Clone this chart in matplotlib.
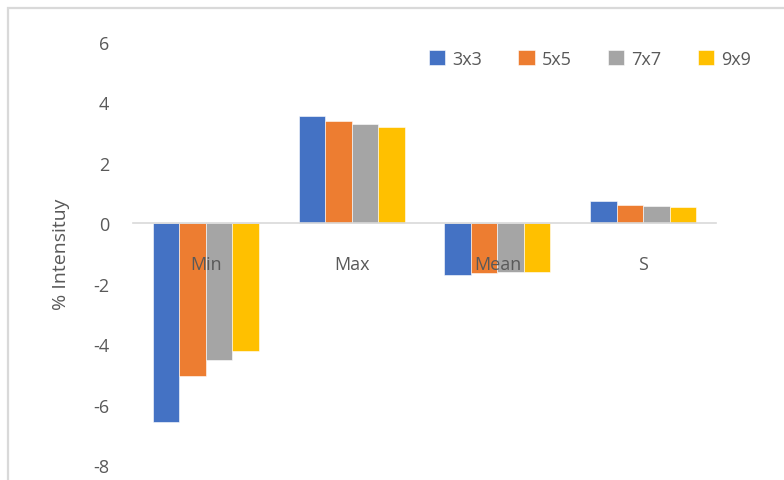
import matplotlib
matplotlib.use("Agg")
import matplotlib.pyplot as plt
import numpy as np
from matplotlib.patches import Rectangle

# data
categories = ["Min", "Max", "Mean", "S"]
kernels = ["3x3", "5x5", "7x7", "9x9"]
vals_3x3 = [-6.58, 3.54, -1.70, 0.75]
vals_5x5 = [-5.06, 3.38, -1.64, 0.62]
vals_7x7 = [-4.53, 3.28, -1.61, 0.57]
vals_9x9 = [-4.23, 3.20, -1.60, 0.55]
y_ticks = [-8, -6, -4, -2, 0, 2, 4, 6]

COLORS = ["#4472C4", "#ED7D31", "#A5A5A5", "#FFC000"]
TEXT_COLOR = "#595959"
LINE_COLOR = "#D9D9D9"

plt.rcParams["font.family"] = ["Open Sans", "DejaVu Sans"]
plt.rcParams["axes.unicode_minus"] = False

W, H = 784, 481
fig = plt.figure(figsize=(W / 100, H / 100), dpi=100)
fig.patch.set_facecolor("white")

# outer chart frame (cut off on right and bottom in the reference)
fig.patches.append(Rectangle((8 / W, -0.2), 1.2, 1.2 - 9 / H,
                             transform=fig.transFigure, fill=False,
                             edgecolor=LINE_COLOR, linewidth=1.6))

ax = fig.add_axes([133 / W, (H - 466) / H, 583 / W, 423 / H])

series = [vals_3x3, vals_5x5, vals_7x7, vals_9x9]
x = np.arange(len(categories))
group = 0.727
bw = group / len(series)
for i, (name, vals) in enumerate(zip(kernels, series)):
    offs = -group / 2 + bw * (i + 0.5)
    ax.bar(x + offs, vals, width=bw, color=COLORS[i], label=name,
           edgecolor="white", linewidth=0.4)

ax.set_xlim(-0.5, len(categories) - 0.5)
ax.set_ylim(-8, 6)
ax.set_yticks(y_ticks)
ax.set_xticks(x, categories)

for side in ["top", "right", "left"]:
    ax.spines[side].set_visible(False)
ax.spines["bottom"].set_position(("data", 0))
ax.spines["bottom"].set_color(LINE_COLOR)
ax.spines["bottom"].set_linewidth(1.2)

ax.tick_params(axis="x", length=0, pad=23, labelsize=13, labelcolor=TEXT_COLOR)
ax.tick_params(axis="y", length=0, pad=17, labelsize=13, labelcolor=TEXT_COLOR)

ax.set_ylabel("% Intensituy", fontsize=14, color=TEXT_COLOR, labelpad=17)

ax.legend(ncol=4, loc="center", bbox_to_anchor=(590 / W, (H - 60) / H),
          bbox_transform=fig.transFigure, frameon=False, fontsize=13,
          handlelength=0.9, handleheight=0.9, handletextpad=0.4,
          columnspacing=2.0, labelcolor=TEXT_COLOR)

fig.savefig("out.png", dpi=100, facecolor="white")
